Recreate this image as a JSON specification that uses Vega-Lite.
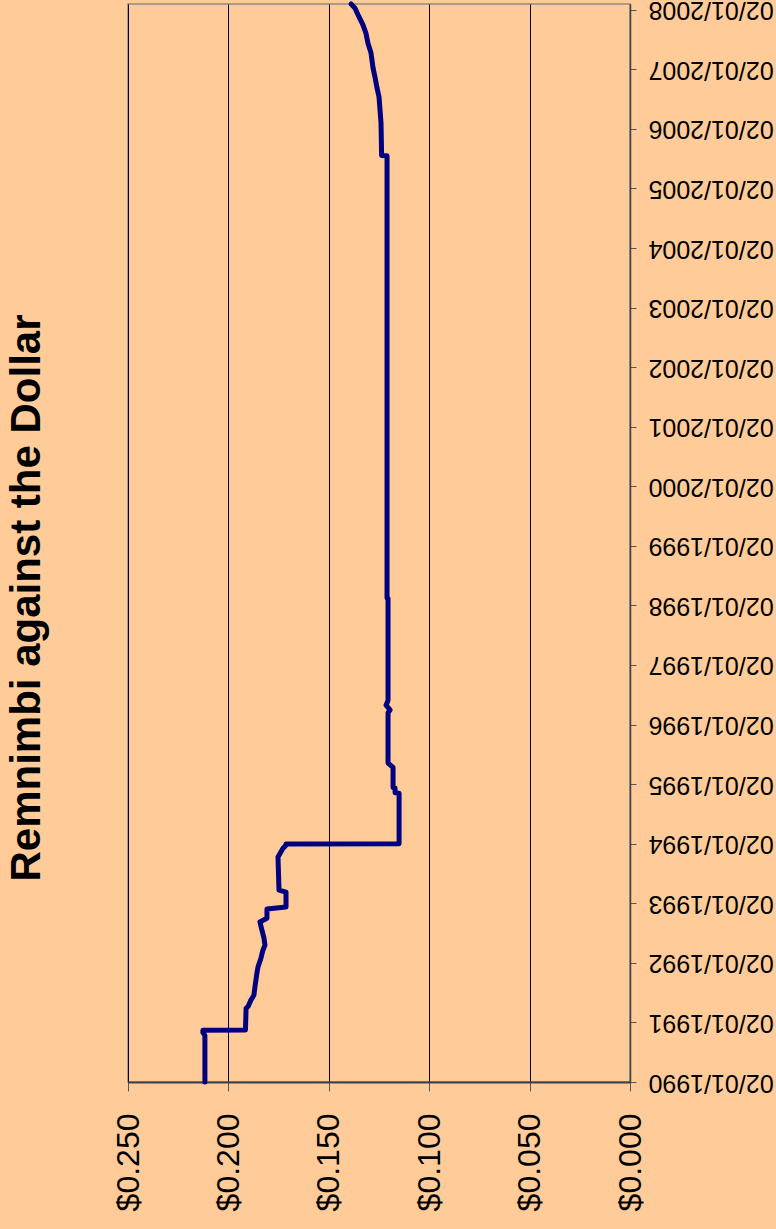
{
  "$schema": "https://vega.github.io/schema/vega-lite/v6.json",
  "width": 502,
  "height": 1078,
  "autosize": {"type": "none"},
  "padding": {"left": 128, "top": 4, "right": 146, "bottom": 147},
  "background": "#FFCC99",
  "config": {
    "view": {"stroke": "#8a8a8a", "strokeWidth": 1.5, "fill": "#FFCC99"},
    "font": "Liberation Sans"
  },
  "title": {
    "text": "Remnimbi against the Dollar",
    "orient": "left",
    "fontSize": 42,
    "fontWeight": "bold",
    "font": "Liberation Sans",
    "color": "#000000",
    "offset": 63,
    "dx": -55
  },
  "data": {
    "values": [
      {"date": "1990-01-02", "usd": 0.2117},
      {"date": "1990-10-15", "usd": 0.2117},
      {"date": "1990-11-01", "usd": 0.2127},
      {"date": "1990-11-16", "usd": 0.2127},
      {"date": "1990-11-17", "usd": 0.1915},
      {"date": "1991-03-30", "usd": 0.1912},
      {"date": "1991-04-10", "usd": 0.1902},
      {"date": "1991-05-19", "usd": 0.1888},
      {"date": "1991-06-18", "usd": 0.1873},
      {"date": "1991-08-06", "usd": 0.1868},
      {"date": "1991-10-31", "usd": 0.1858},
      {"date": "1991-12-06", "usd": 0.1853},
      {"date": "1992-01-31", "usd": 0.1838},
      {"date": "1992-03-20", "usd": 0.1828},
      {"date": "1992-04-20", "usd": 0.1818},
      {"date": "1992-06-03", "usd": 0.1823},
      {"date": "1992-07-21", "usd": 0.1833},
      {"date": "1992-09-09", "usd": 0.1843},
      {"date": "1992-10-02", "usd": 0.1808},
      {"date": "1992-11-28", "usd": 0.1808},
      {"date": "1992-12-10", "usd": 0.1713},
      {"date": "1993-03-11", "usd": 0.1713},
      {"date": "1993-03-23", "usd": 0.1748},
      {"date": "1993-10-12", "usd": 0.1753},
      {"date": "1993-12-05", "usd": 0.1728},
      {"date": "1993-12-24", "usd": 0.1713},
      {"date": "1993-12-31", "usd": 0.1713},
      {"date": "1994-01-01", "usd": 0.1150},
      {"date": "1994-11-08", "usd": 0.1150},
      {"date": "1994-11-10", "usd": 0.1170},
      {"date": "1994-12-10", "usd": 0.1170},
      {"date": "1994-12-12", "usd": 0.1180},
      {"date": "1995-04-15", "usd": 0.1180},
      {"date": "1995-05-11", "usd": 0.1205},
      {"date": "1996-03-15", "usd": 0.1205},
      {"date": "1996-04-01", "usd": 0.1195},
      {"date": "1996-04-30", "usd": 0.1215},
      {"date": "1996-05-29", "usd": 0.1205},
      {"date": "1998-02-15", "usd": 0.1205},
      {"date": "1998-02-16", "usd": 0.1210},
      {"date": "2005-07-21", "usd": 0.1210},
      {"date": "2005-07-22", "usd": 0.1237},
      {"date": "2006-02-07", "usd": 0.1240},
      {"date": "2006-07-17", "usd": 0.1250},
      {"date": "2006-09-10", "usd": 0.1260},
      {"date": "2006-11-15", "usd": 0.1270},
      {"date": "2007-01-12", "usd": 0.1280},
      {"date": "2007-04-13", "usd": 0.1290},
      {"date": "2007-06-11", "usd": 0.1305},
      {"date": "2007-08-11", "usd": 0.1315},
      {"date": "2007-10-01", "usd": 0.1330},
      {"date": "2007-11-20", "usd": 0.1350},
      {"date": "2008-01-13", "usd": 0.1370},
      {"date": "2008-02-06", "usd": 0.1389}
    ]
  },
  "mark": {"type": "line", "color": "#000080", "strokeWidth": 5, "strokeJoin": "round", "strokeCap": "round"},
  "encoding": {
    "order": {"field": "date", "type": "temporal"},
    "y": {
      "field": "date",
      "type": "temporal",
      "scale": {
        "type": "utc",
        "nice": false,
        "domain": [
          {"year": 1990, "month": 1, "date": 2, "utc": true},
          {"year": 2008, "month": 2, "date": 6, "utc": true}
        ]
      },
      "axis": {
        "orient": "right",
        "title": null,
        "grid": false,
        "values": [
          {"year": 1990, "month": 1, "date": 2, "utc": true},
          {"year": 1991, "month": 1, "date": 2, "utc": true},
          {"year": 1992, "month": 1, "date": 2, "utc": true},
          {"year": 1993, "month": 1, "date": 2, "utc": true},
          {"year": 1994, "month": 1, "date": 2, "utc": true},
          {"year": 1995, "month": 1, "date": 2, "utc": true},
          {"year": 1996, "month": 1, "date": 2, "utc": true},
          {"year": 1997, "month": 1, "date": 2, "utc": true},
          {"year": 1998, "month": 1, "date": 2, "utc": true},
          {"year": 1999, "month": 1, "date": 2, "utc": true},
          {"year": 2000, "month": 1, "date": 2, "utc": true},
          {"year": 2001, "month": 1, "date": 2, "utc": true},
          {"year": 2002, "month": 1, "date": 2, "utc": true},
          {"year": 2003, "month": 1, "date": 2, "utc": true},
          {"year": 2004, "month": 1, "date": 2, "utc": true},
          {"year": 2005, "month": 1, "date": 2, "utc": true},
          {"year": 2006, "month": 1, "date": 2, "utc": true},
          {"year": 2007, "month": 1, "date": 2, "utc": true},
          {"year": 2008, "month": 1, "date": 2, "utc": true}
        ],
        "format": "%d/%m/%Y",
        "labelAngle": 180,
        "labelAlign": "right",
        "labelBaseline": "middle",
        "labelFontSize": 25,
        "labelFont": "Liberation Sans",
        "labelColor": "#000000",
        "labelPadding": 12,
        "labelOverlap": false,
        "labelFlush": false,
        "tickSize": 6,
        "tickColor": "#555555",
        "domainColor": "#404040",
        "domainWidth": 1.5
      }
    },
    "x": {
      "field": "usd",
      "type": "quantitative",
      "scale": {"domain": [0, 0.25], "reverse": true, "nice": false, "zero": false},
      "axis": {
        "orient": "bottom",
        "title": null,
        "values": [0, 0.05, 0.1, 0.15, 0.2, 0.25],
        "format": "$.3f",
        "grid": true,
        "gridColor": "#000000",
        "gridWidth": 1,
        "labelAngle": -90,
        "labelAlign": "right",
        "labelBaseline": "middle",
        "labelFontSize": 32,
        "labelFont": "Liberation Sans",
        "labelColor": "#000000",
        "labelPadding": 22,
        "labelOverlap": false,
        "labelFlush": false,
        "tickSize": 9,
        "tickColor": "#555555",
        "domainColor": "#404040",
        "domainWidth": 2
      }
    }
  }
}
